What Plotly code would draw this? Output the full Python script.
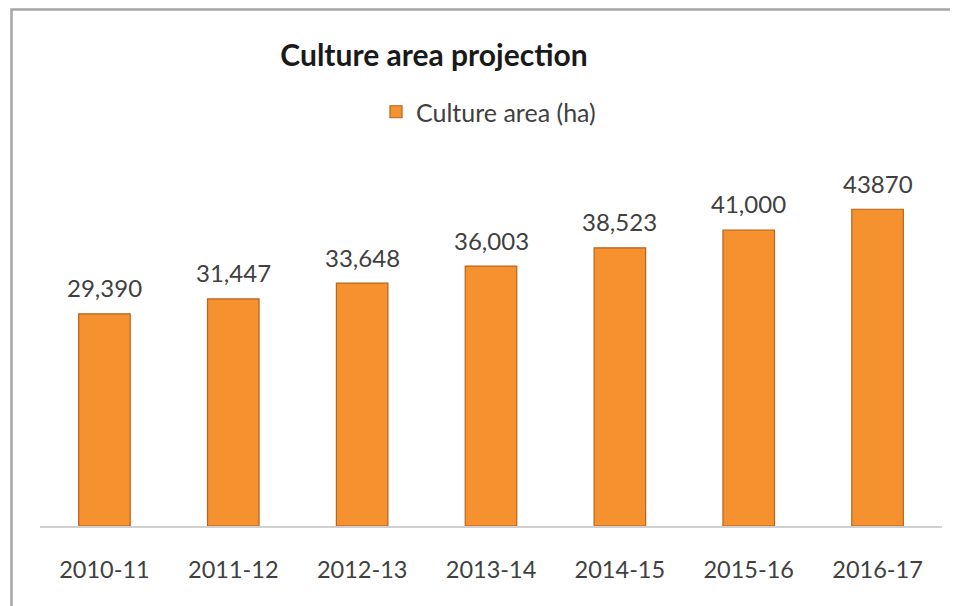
import plotly.graph_objects as go

# data
seasons = ["2010-11", "2011-12", "2012-13", "2013-14", "2014-15", "2015-16", "2016-17"]
area_ha = [29390, 31447, 33648, 36003, 38523, 41000, 43870]
labels = ["29,390", "31,447", "33,648", "36,003", "38,523", "41,000", "43870"]

FONT = "Lato"
GREY_TXT = "#404040"
W, H = 958, 606
OFF = 8  # the page body adds an 8px offset, so shift everything back

fig = go.Figure()
fig.add_trace(go.Bar(
    x=seasons, y=area_ha, name="Culture area (ha)",
    marker=dict(color="#F5912E", line=dict(color="#B8631C", width=1.2)),
))

# value labels above bars
for s, v, t in zip(seasons, area_ha, labels):
    fig.add_annotation(x=s, y=v, text=t, showarrow=False, yanchor="middle",
                       yshift=26, font=dict(family=FONT, size=24, color=GREY_TXT))

fig.update_layout(
    width=W, height=H,
    margin=dict(l=40 - OFF, r=16 + OFF, t=165 - OFF, b=80 + OFF),
    paper_bgcolor="white", plot_bgcolor="white",
    bargap=0.6,
    font=dict(family=FONT, color=GREY_TXT),
    title=dict(text="<b>Culture area projection</b>", x=(434 - OFF) / W, xanchor="center",
               y=1 - (55 - OFF) / H, yanchor="middle", yref="container",
               font=dict(family=FONT, size=30, color="#1a1a1a")),
    showlegend=True,
    legend=dict(orientation="h", xref="container", yref="container",
                x=(376 - OFF) / W, xanchor="left", y=1 - (112 - OFF) / H,
                yanchor="middle",
                font=dict(family=FONT, size=25, color=GREY_TXT)),
    xaxis=dict(type="category", showline=True, linecolor="#D0D0D0", linewidth=1.5,
               ticks="", ticklabelstandoff=22,
               tickfont=dict(family=FONT, size=23.5, color=GREY_TXT),
               showgrid=False),
    yaxis=dict(range=[0, 50000], visible=False, showgrid=False),
    # outer chart frame (cropped on the right and bottom)
    shapes=[dict(type="rect", xref="paper", yref="paper",
                 x0=(3.5 - 40 + OFF) / 902, x1=1.2, y0=-0.6,
                 y1=1 + (157 - 1.5) / 361,
                 line=dict(color="#A6A6A6", width=2.5))],
)

fig.write_html("out.html")
